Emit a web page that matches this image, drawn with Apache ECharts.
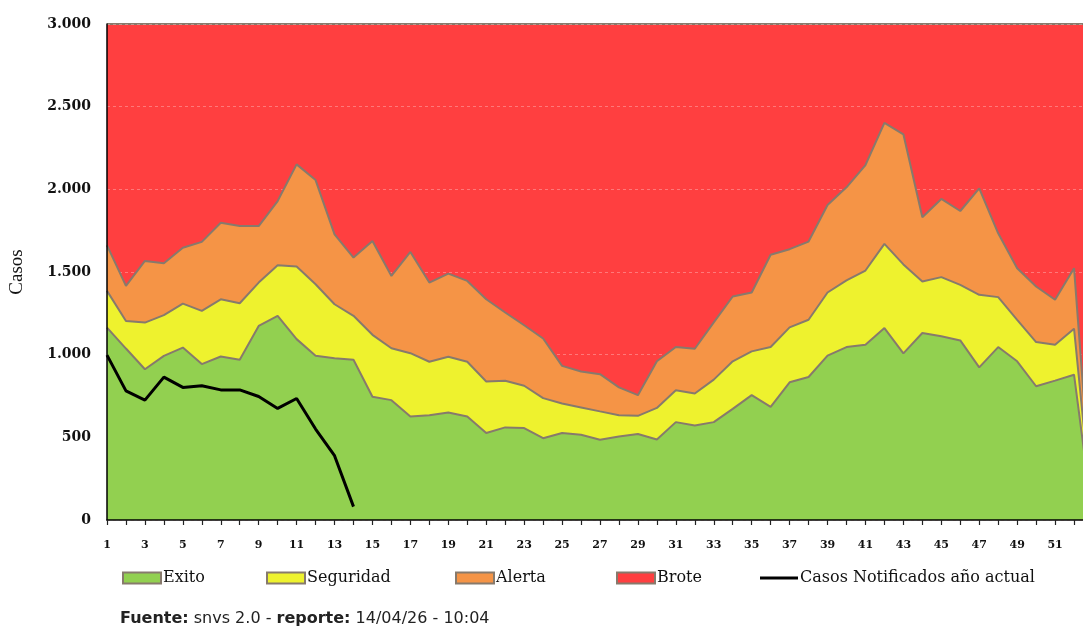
<!DOCTYPE html>
<html>
<head>
<meta charset="utf-8">
<script src="https://cdn.jsdelivr.net/npm/echarts@6/dist/echarts.min.js"></script>
<style>
html,body{margin:0;padding:0;background:#fff;overflow:hidden;width:1083px;height:626px;}
#chart{width:1120px;height:626px;}
</style>
</head>
<body>
<div id="chart"></div>
<script>
// Semanas epidemiológicas
const weeks = ['1','2','3','4','5','6','7','8','9','10','11','12','13','14','15','16','17','18','19','20',
  '21','22','23','24','25','26','27','28','29','30','31','32','33','34','35','36','37','38','39','40',
  '41','42','43','44','45','46','47','48','49','50','51','52','53'];

// Límite superior de cada zona
const exito = [1164,1037,912,993,1043,943,989,969,1174,1235,1094,993,979,969,745,725,626,634,650,626,
  526,560,556,495,526,516,485,505,520,487,592,571,592,672,755,684,833,865,994,1046,
  1060,1161,1008,1131,1111,1086,923,1046,960,809,843,879,0];
const seguridad = [1386,1204,1194,1239,1309,1265,1335,1311,1436,1541,1533,1426,1305,1235,1120,1039,1009,957,987,957,
  838,842,812,737,705,681,657,634,630,678,785,765,849,960,1020,1046,1165,1211,1376,1449,
  1509,1670,1546,1443,1469,1422,1362,1348,1211,1076,1060,1157,0];
const alerta = [1661,1416,1567,1553,1647,1682,1798,1778,1778,1929,2151,2056,1728,1587,1688,1476,1621,1436,1490,1446,
  1335,1255,1178,1098,932,898,882,802,755,960,1046,1036,1195,1352,1376,1604,1638,1684,1905,2012,
  2147,2402,2333,1831,1942,1869,2006,1734,1523,1412,1332,1523,0];
const brote = [3000,3000,3000,3000,3000,3000,3000,3000,3000,3000,3000,3000,3000,3000,3000,3000,3000,3000,3000,3000,
  3000,3000,3000,3000,3000,3000,3000,3000,3000,3000,3000,3000,3000,3000,3000,3000,3000,3000,3000,3000,
  3000,3000,3000,3000,3000,3000,3000,3000,3000,3000,3000,3000,3000];
const casosActual = [997,781,725,864,802,812,787,787,747,675,735,550,389,81];

const yTicks = {min:0, max:3000, interval:500};

const chart = echarts.init(document.getElementById('chart'), null, {renderer:'canvas'});
const edge = '#877a6c';
const serif = 'DejaVu Serif';

function areaSeries(name, data, color, z){
  return {
    name: name, type:'line', data: data, z: z,
    symbol:'none', showSymbol:false, smooth:false,
    color: color,
    itemStyle:{color: color, borderColor: edge, borderWidth:1},
    lineStyle:{color: edge, width:2},
    areaStyle:{color: color, opacity:1},
    emphasis:{disabled:true}
  };
}

function fmtThousands(v){
  const s = String(Math.round(v));
  return s.replace(/\B(?=(\d{3})+(?!\d))/g, '.');
}

const legendBase = {
  top: 565, itemWidth: 38, itemHeight: 11, icon:'rect',
  textStyle:{fontFamily:serif, fontSize:16, color:'#111', padding:[0,0,0,-3]},
  selectedMode:false
};

const option = {
  animation:false,
  backgroundColor:'#fff',
  grid:{left:107, top:24, right:27, bottom:106, containLabel:false},
  xAxis:{
    type:'category', data: weeks, boundaryGap:false, z:20,
    axisLine:{show:true, lineStyle:{color:'#000', width:1.5}},
    axisTick:{show:true, interval:0, length:5, lineStyle:{color:'#222', width:1.2}},
    axisLabel:{interval:1, margin:20, fontFamily:serif, fontWeight:'bold', fontSize:11, color:'#111'},
    splitLine:{show:false}
  },
  yAxis:[{
    type:'value', min:yTicks.min, max:yTicks.max, interval:yTicks.interval, z:20,
    name:'Casos', nameLocation:'middle', nameGap:80, nameRotate:90,
    nameTextStyle:{fontFamily:'Liberation Serif', fontSize:19, color:'#111'},
    axisLine:{show:true, lineStyle:{color:'#000', width:1.5}},
    axisTick:{show:false},
    axisLabel:{margin:16, fontFamily:serif, fontWeight:'bold', fontSize:14, color:'#111',
      formatter: fmtThousands},
    splitLine:{show:false}
  },{
    type:'value', min:yTicks.min, max:yTicks.max, interval:yTicks.interval, z:3,
    axisLine:{show:false}, axisTick:{show:false}, axisLabel:{show:false},
    splitLine:{show:true, lineStyle:{color:'rgba(255,190,190,0.45)', type:[3,3], width:1}}
  }],
  legend:[
    Object.assign({}, legendBase, {left:117, data:['Exito']}),
    Object.assign({}, legendBase, {left:261, data:['Seguridad']}),
    Object.assign({}, legendBase, {left:450, data:['Alerta']}),
    Object.assign({}, legendBase, {left:611, data:['Brote']}),
    Object.assign({}, legendBase, {left:755, data:[{name:'Casos Notificados año actual', itemStyle:{color:'#000'}}], itemHeight:3})
  ],
  series:[
    areaSeries('Brote', brote, '#ff3f40', 2),
    areaSeries('Alerta', alerta, '#f59446', 4),
    areaSeries('Seguridad', seguridad, '#eef22e', 5),
    areaSeries('Exito', exito, '#92d050', 6),
    {
      name:'Casos Notificados año actual', type:'line', data: casosActual, z:10,
      symbol:'none', showSymbol:false, color:'#000',
      lineStyle:{color:'#000', width:3},
      emphasis:{disabled:true}
    }
  ],
  graphic:[{
    type:'text', left:120, top:611, z:100,
    style:{
      text:'{b|Fuente:} snvs 2.0 - {b|reporte:} 14/04/26 - 10:04',
      fontFamily:'DejaVu Sans', fontSize:16, fill:'#222',
      rich:{b:{fontFamily:'DejaVu Sans', fontWeight:'bold', fontSize:16, fill:'#222'}}
    }
  }]
};
chart.setOption(option);
</script>
</body>
</html>
